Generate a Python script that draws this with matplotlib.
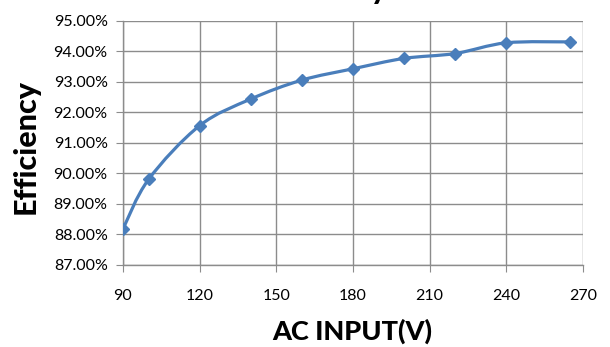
import matplotlib
matplotlib.use("Agg")
import matplotlib.pyplot as plt
from matplotlib.path import Path
from matplotlib.patches import PathPatch
from matplotlib.ticker import FuncFormatter
import numpy as np

voltage = [90, 100, 120, 140, 160, 180, 200, 220, 240, 265]
efficiency = [88.18, 89.80, 91.56, 92.43, 93.05, 93.42, 93.76, 93.92, 94.27, 94.30]
x_ticks = [90, 120, 150, 180, 210, 240, 270]
y_ticks = [87, 88, 89, 90, 91, 92, 93, 94, 95]

plt.rcParams['font.family'] = ['Lato', 'DejaVu Sans']
color = '#4A7EBB'
grid_c = '#8C8C8C'

fig = plt.figure(figsize=(6.10, 3.47), dpi=100)
ax = fig.add_axes([123/610, 1-265/347, (583-123)/610, (265-20.5)/347])

# smoothed line (Excel-style Catmull-Rom bezier)
pts = np.column_stack([voltage, efficiency]).astype(float)
verts = [tuple(pts[0])]
codes = [Path.MOVETO]
n = len(pts)
for i in range(n-1):
    p0 = pts[i-1] if i > 0 else pts[i]
    p1 = pts[i]
    p2 = pts[i+1]
    p3 = pts[i+2] if i+2 < n else pts[i+1]
    c1 = p1 + (p2 - p0) / 6.0
    c2 = p2 - (p3 - p1) / 6.0
    verts += [tuple(c1), tuple(c2), tuple(p2)]
    codes += [Path.CURVE4]*3
ax.add_patch(PathPatch(Path(verts, codes), fill=False, edgecolor=color, lw=2.3, zorder=3))
ax.plot(voltage, efficiency, linestyle='none', marker='D', markersize=6.5,
        color=color, zorder=4)

ax.set_xlim(90, 270)
ax.set_ylim(87, 95)
ax.set_xticks(x_ticks)
ax.set_yticks(y_ticks)
ax.yaxis.set_major_formatter(FuncFormatter(lambda v, p: f"{v:.2f}%"))
ax.grid(True, color=grid_c, lw=1.0)
ax.set_axisbelow(True)
for s in ['top', 'right']:
    ax.spines[s].set_visible(False)
for s in ['left', 'bottom']:
    ax.spines[s].set_color(grid_c)
    ax.spines[s].set_linewidth(1.0)
ax.tick_params(axis='both', direction='out', length=5, color=grid_c,
               labelsize=11.5, labelcolor='black')
ax.tick_params(axis='x', pad=12)
ax.tick_params(axis='y', pad=6)

fig.text(26/610, 1-146/347, 'Efficiency', rotation=90, ha='center', va='center',
         fontsize=22, fontweight='black')
fig.text(352/610, 1-331/347, 'AC INPUT(V)', ha='center', va='center',
         fontsize=19.5, fontweight='black')
fig.text(388/610, 1+1/347, 'Efficiency', ha='right', va='baseline',
         fontsize=22, fontweight='black')

fig.savefig('out.png', dpi=100)
